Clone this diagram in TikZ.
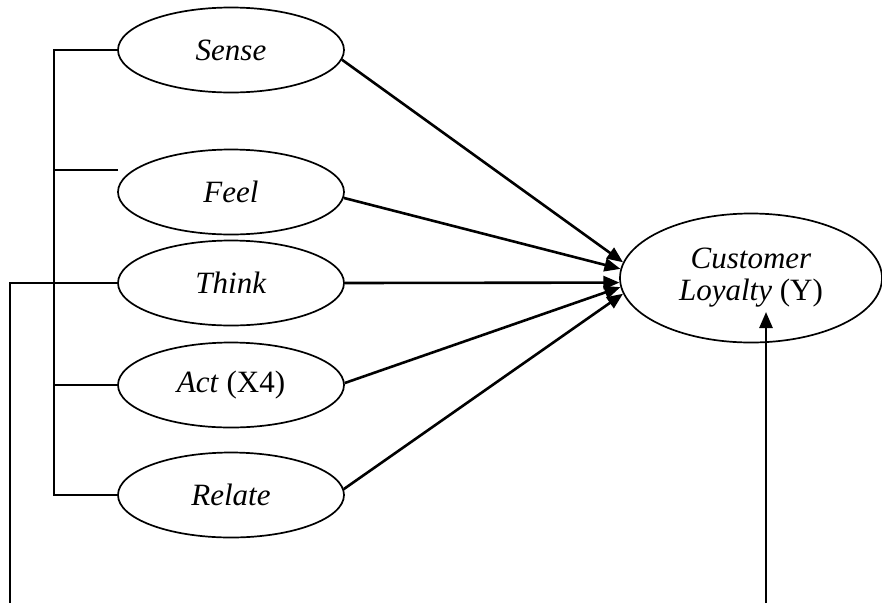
\documentclass[tikz,border=0pt]{standalone}
\usepackage{fontspec}
\setmainfont{LiberationSerif}[Extension=.ttf, UprightFont=*-Regular, ItalicFont=*-Italic, BoldFont=*-Bold]
\usetikzlibrary{arrows.meta,calc,shapes.geometric}
\tikzset{
  var/.style={draw, ellipse, line width=1.7pt, minimum width=226pt, minimum height=85pt, inner sep=0pt, font=\fontsize{31}{35}\selectfont},
  arr/.style={line width=2.6pt, -{Triangle[length=16pt,width=13pt]}},
  ln/.style={line width=2.4pt}
}
\begin{document}
\begin{tikzpicture}[x=1pt, y=-1pt]
		\useasboundingbox (0,0) rectangle (882,603);
		\node[var] (sense) at (231,50) {\textit{Sense}};
		\node[var] (feel) at (231,192) {\textit{Feel}};
		\node[var] (think) at (231,283) {\textit{Think}};
		\node[var] (act) at (231,385) {\textit{Act} (X4)};
		\node[var] (relate) at (231,495) {\textit{Relate}};
		\node[var, minimum width=262pt, minimum height=129pt, align=center] (cl) at (751,278) {\textit{Customer}\\[-3pt]\textit{Loyalty} (Y)};
		\coordinate (bx) at (54,0);
		\coordinate (feeltick) at (118,170);
		\coordinate (lo) at (10,603);
		\coordinate (ybot) at (766,603);
		\coordinate (ytip) at (766,312);
		\draw[ln] (sense.west) -- (sense.west -| bx) -- (relate.west -| bx) -- (relate.west);
		\draw[ln] (feeltick) -- (feeltick -| bx);
		\draw[ln] (think.west) -- (think.west -| lo) -- (lo);
		\draw[ln] (act.west) -- (act.west -| bx);
		\draw[arr] (sense.-5) -- (cl.173);
		\draw[arr] (feel.-3) -- (cl.176.5);
		\draw[arr] (think.east) -- (cl.182);
		\draw[arr] (act.1) -- (cl.184.5);
		\draw[arr] (relate.3) -- (cl.187.5);
		\draw[arr] (ybot) -- (ytip);
		\end{tikzpicture}
\end{document}
